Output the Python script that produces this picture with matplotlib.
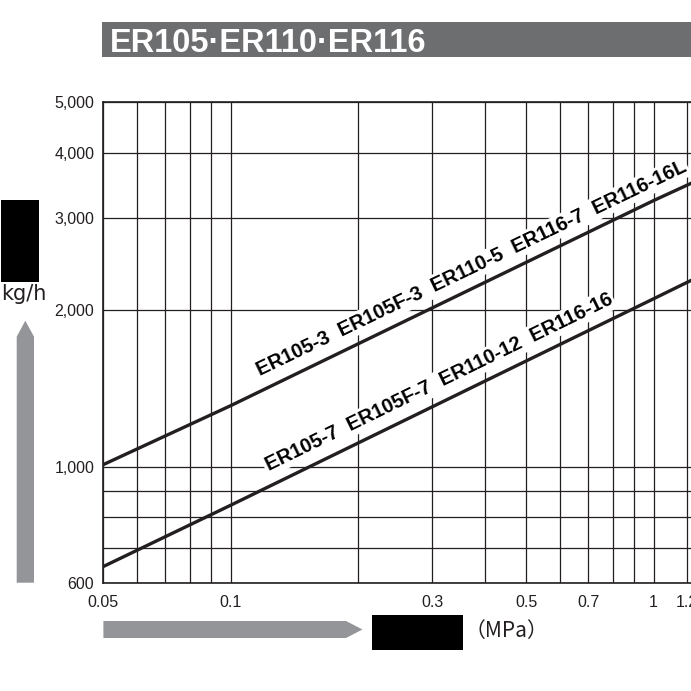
import numpy as np
import matplotlib
matplotlib.use("Agg")
import matplotlib.pyplot as plt
from matplotlib.patches import Rectangle, Polygon
from matplotlib.ticker import FixedLocator, NullFormatter

plt.rcParams["font.family"] = ["Liberation Sans", "Noto Sans CJK JP", "DejaVu Sans"]

# values
pressure = [0.05, 0.1, 1.0, 1.23]  # MPa
flow_upper = [1010, 1310, 3240, 3500]  # kg/h
flow_lower = [644, 844, 2100, 2280]
models_upper = ["ER105-3", "ER105F-3", "ER110-5", "ER116-7", "ER116-16L"]
models_lower = ["ER105-7", "ER105F-7", "ER110-12", "ER116-16"]

x_major = [0.05, 0.1, 0.3, 0.5, 0.7, 1.0, 1.2]
x_major_labels = ["0.05", "0.1", "0.3", "0.5", "0.7", "1", "1.2"]
x_minor = [0.06, 0.07, 0.08, 0.09, 0.2, 0.4, 0.6, 0.8, 0.9]
y_major = [600, 1000, 2000, 3000, 4000, 5000]
y_major_labels = ["600", "1,000", "2,000", "3,000", "4,000", "5,000"]
y_minor = [700, 800, 900]

W = H = 691
INK = "#231f20"
GREY = "#939598"


def fx(x):
    return x / W


def fy(y):
    return 1 - y / H


fig = plt.figure(figsize=(6.91, 6.91), dpi=100)

left, top, bottom = 103.4, 102.3, 582.5
ax = fig.add_axes([fx(left), fy(bottom), 1 - fx(left), (bottom - top) / H])
ax.set_xscale("log")
ax.set_yscale("log")
ax.set_xlim(0.05, 1.226)
ax.set_ylim(600, 5000)

ax.set_xticks(x_major, x_major_labels)
ax.xaxis.set_minor_locator(FixedLocator(x_minor))
ax.xaxis.set_minor_formatter(NullFormatter())
ax.set_yticks(y_major, y_major_labels)
ax.yaxis.set_minor_locator(FixedLocator(y_minor))
ax.yaxis.set_minor_formatter(NullFormatter())

ax.tick_params(which="both", length=0, labelsize=11.5, labelcolor=INK)
ax.tick_params(axis="x", pad=9)
ax.tick_params(axis="y", pad=6.5)
ax.grid(True, which="both", color=INK, linewidth=0.9)
ax.set_axisbelow(True)
for side in ("left", "top", "bottom"):
    ax.spines[side].set_linewidth(1.2)
    ax.spines[side].set_color(INK)
ax.spines["right"].set_visible(False)

ax.plot(pressure, flow_upper, color=INK, linewidth=2.4, zorder=3)
ax.plot(pressure, flow_lower, color=INK, linewidth=2.4, zorder=3)


def line_label(models, flows, x_start):
    p1 = ax.transData.transform((pressure[0], flows[0]))
    p2 = ax.transData.transform((pressure[2], flows[2]))
    ang = np.degrees(np.arctan2(p2[1] - p1[1], p2[0] - p1[0]))
    y_start = 10 ** np.interp(np.log10(x_start), np.log10(pressure), np.log10(flows))
    d = 10.0
    off = (-np.sin(np.radians(ang)) * d, np.cos(np.radians(ang)) * d)
    ax.annotate(
        "  ".join(models),
        xy=(x_start, y_start),
        xytext=off,
        textcoords="offset points",
        rotation=ang,
        rotation_mode="anchor",
        ha="left",
        va="baseline",
        fontsize=14.5,
        fontweight="bold",
        color="black",
        zorder=4,
        annotation_clip=False,
        bbox=dict(facecolor="white", edgecolor="none", pad=1.5),
    )


line_label(models_upper, flow_upper, 0.121)
line_label(models_lower, flow_lower, 0.127)

# title bar
fig.add_artist(Rectangle((fx(102), fy(57)), 1 - fx(102), 35 / H,
                         transform=fig.transFigure, facecolor="#6d6e70", edgecolor="none"))
fig.text(fx(110), fy(51.5), "ER105\u00b7ER110\u00b7ER116", color="white", fontsize=23.5,
         fontweight="bold", ha="left", va="baseline")

# y axis label block
fig.add_artist(Rectangle((fx(1), fy(282)), fx(38), 82 / H, transform=fig.transFigure,
                         facecolor="black", edgecolor="none"))
fig.text(fx(1), fy(300), "kg/h", fontsize=15, color=INK, family=["DejaVu Sans"],
         ha="left", va="baseline")
fig.add_artist(Polygon([(fx(16.7), fy(582.7)), (fx(34), fy(582.7)), (fx(34), fy(336.7)),
                        (fx(25.3), fy(320.7)), (fx(16.7), fy(336.7))],
                       closed=True, transform=fig.transFigure, facecolor=GREY, edgecolor="none"))

# x axis label block
fig.add_artist(Polygon([(fx(103.4), fy(621)), (fx(346), fy(621)), (fx(362.5), fy(629.5)),
                        (fx(346), fy(638)), (fx(103.4), fy(638))],
                       closed=True, transform=fig.transFigure, facecolor=GREY, edgecolor="none"))
fig.add_artist(Rectangle((fx(372), fy(649.5)), fx(91), 34.5 / H, transform=fig.transFigure,
                         facecolor="black", edgecolor="none"))
fig.text(fx(465), fy(631), "\uff08MPa\uff09", fontsize=15, color=INK,
         family=["Noto Sans CJK JP"], ha="left", va="center")

fig.savefig("out.png", dpi=100)
